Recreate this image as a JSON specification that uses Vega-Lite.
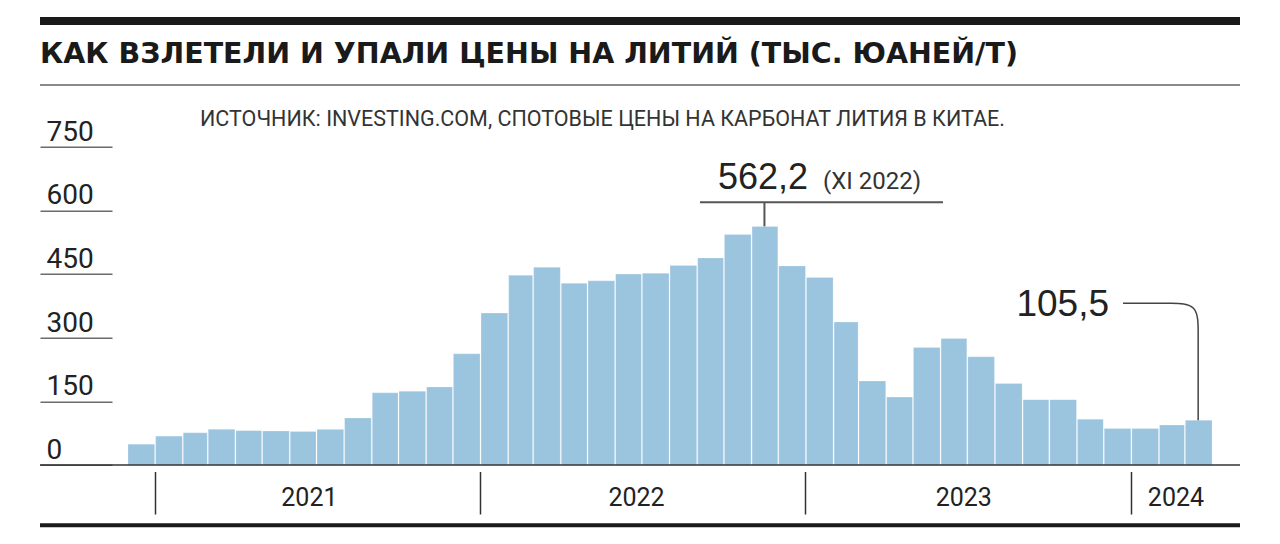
{
  "$schema": "https://vega.github.io/schema/vega-lite/v6.json",
  "autosize": {"type": "none"},
  "width": 1200,
  "height": 318.3,
  "padding": {"left": 40, "top": 146.7, "right": 40, "bottom": 79},
  "background": "#ffffff",
  "config": {"view": {"stroke": null}},
  "title": {
    "text": "КАК ВЗЛЕТЕЛИ И УПАЛИ ЦЕНЫ НА ЛИТИЙ (ТЫС. ЮАНЕЙ/Т)",
    "anchor": "start",
    "frame": "group",
    "font": "DejaVu Sans",
    "fontSize": 28.5,
    "fontWeight": "bold",
    "color": "#1a1a1a",
    "baseline": "alphabetic",
    "offset": 0,
    "dy": 75
  },
  "datasets": {
    "prices": [
      {"date": "2020-12-01", "price": 49},
      {"date": "2021-01-01", "price": 68},
      {"date": "2021-02-01", "price": 76},
      {"date": "2021-03-01", "price": 84},
      {"date": "2021-04-01", "price": 81},
      {"date": "2021-05-01", "price": 80},
      {"date": "2021-06-01", "price": 79},
      {"date": "2021-07-01", "price": 84},
      {"date": "2021-08-01", "price": 111},
      {"date": "2021-09-01", "price": 170},
      {"date": "2021-10-01", "price": 174},
      {"date": "2021-11-01", "price": 184},
      {"date": "2021-12-01", "price": 262},
      {"date": "2022-01-01", "price": 358},
      {"date": "2022-02-01", "price": 447},
      {"date": "2022-03-01", "price": 466},
      {"date": "2022-04-01", "price": 428},
      {"date": "2022-05-01", "price": 434},
      {"date": "2022-06-01", "price": 450},
      {"date": "2022-07-01", "price": 452},
      {"date": "2022-08-01", "price": 470},
      {"date": "2022-09-01", "price": 488},
      {"date": "2022-10-01", "price": 543},
      {"date": "2022-11-01", "price": 562.2},
      {"date": "2022-12-01", "price": 469},
      {"date": "2023-01-01", "price": 442},
      {"date": "2023-02-01", "price": 337},
      {"date": "2023-03-01", "price": 198},
      {"date": "2023-04-01", "price": 160},
      {"date": "2023-05-01", "price": 277},
      {"date": "2023-06-01", "price": 298},
      {"date": "2023-07-01", "price": 255},
      {"date": "2023-08-01", "price": 192},
      {"date": "2023-09-01", "price": 154},
      {"date": "2023-10-01", "price": 154},
      {"date": "2023-11-01", "price": 108},
      {"date": "2023-12-01", "price": 86},
      {"date": "2024-01-01", "price": 86},
      {"date": "2024-02-01", "price": 94},
      {"date": "2024-03-01", "price": 105.5}
    ],
    "callout": [
      {"k": 0, "date": "2023-12-23T05:00:00Z", "v": 381},
      {"k": 1, "date": "2024-01-20T00:00:00Z", "v": 381},
      {"k": 2, "date": "2024-02-14T00:00:00Z", "v": 381},
      {"k": 3, "date": "2024-03-16T12:00:00Z", "v": 381},
      {"k": 4, "date": "2024-03-16T12:00:00Z", "v": 311},
      {"k": 5, "date": "2024-03-16T12:00:00Z", "v": 240},
      {"k": 6, "date": "2024-03-16T12:00:00Z", "v": 105.5}
    ],
    "one": [{}]
  },
  "layer": [
    {
      "data": {"name": "prices"},
      "mark": {"type": "bar", "color": "#9bc4df", "stroke": "#ffffff", "strokeOpacity": 0.22, "strokeWidth": 1},
      "encoding": {
        "x": {
          "field": "date",
          "timeUnit": "utcyearmonth",
          "type": "temporal",
          "scale": {
            "type": "utc",
            "domain": [
              {"year": 2020, "month": 8, "date": 25, "hours": 10, "utc": true},
              {"year": 2024, "month": 5, "date": 2, "hours": 10, "utc": true}
            ]
          },
          "axis": {
            "title": null,
            "orient": "bottom",
            "offset": 6.5,
            "domain": false,
            "grid": false,
            "values": [
              {"year": 2021, "month": 1, "date": 1, "utc": true},
              {"year": 2021, "month": 6, "date": 23, "utc": true},
              {"year": 2022, "month": 1, "date": 1, "utc": true},
              {"year": 2022, "month": 6, "date": 25, "utc": true},
              {"year": 2023, "month": 1, "date": 1, "utc": true},
              {"year": 2023, "month": 6, "date": 27, "utc": true},
              {"year": 2024, "month": 1, "date": 1, "utc": true},
              {"year": 2024, "month": 2, "date": 20, "utc": true}
            ],
            "ticks": true,
            "tickSize": 42.5,
            "tickWidth": 1.5,
            "tickColor": "#333333",
            "tickOpacity": {"condition": {"test": "utcmonth(datum.value) == 0 && utcdate(datum.value) == 1", "value": 1}, "value": 0},
            "labelExpr": "utcmonth(datum.value) == 0 && utcdate(datum.value) == 1 ? '' : utcFormat(datum.value, '%Y')",
            "labelFont": "Roboto",
            "labelFontSize": 25,
            "labelColor": "#222222",
            "labelBaseline": "alphabetic",
            "labelAlign": "center",
            "labelPadding": -9,
            "labelOverlap": false,
            "labelFlush": false,
            "labelBound": false
          }
        },
        "y": {
          "field": "price",
          "type": "quantitative",
          "scale": {"domain": [0, 750], "nice": false, "zero": true},
          "axis": {
            "title": null,
            "orient": "left",
            "offset": -72,
            "domain": false,
            "grid": false,
            "values": [0, 150, 300, 450, 600, 750],
            "tickSize": 72,
            "tickWidth": 1.5,
            "tickColor": "#6b6b6b",
            "labelFont": "Roboto",
            "labelFontSize": 28,
            "labelColor": "#222222",
            "labelAlign": "left",
            "labelBaseline": "alphabetic",
            "labelPadding": -6,
            "labelOffset": -6.5,
            "labelOverlap": false,
            "labelFlush": false,
            "labelBound": false
          }
        }
      }
    },
    {
      "data": {"name": "one"},
      "mark": {"type": "rule", "color": "#333333", "strokeWidth": 1.5},
      "encoding": {"y": {"datum": 0, "type": "quantitative"}}
    },
    {
      "data": {"name": "one"},
      "mark": {"type": "rule", "color": "#1a1a1a", "strokeWidth": 8},
      "encoding": {"y": {"datum": 1046.2, "type": "quantitative"}}
    },
    {
      "data": {"name": "one"},
      "mark": {"type": "rule", "color": "#8a8a8a", "strokeWidth": 2},
      "encoding": {"y": {"datum": 895.4, "type": "quantitative"}}
    },
    {
      "data": {"name": "one"},
      "mark": {"type": "rule", "color": "#1a1a1a", "strokeWidth": 4},
      "encoding": {"y": {"datum": -142.1, "type": "quantitative"}}
    },
    {
      "data": {"name": "one"},
      "mark": {"type": "text", "font": "Roboto", "fontSize": 21.5, "color": "#333333", "align": "left", "baseline": "alphabetic"},
      "encoding": {
        "x": {"datum": {"year": 2021, "month": 2, "date": 20, "hours": 22, "utc": true}, "type": "temporal"},
        "y": {"datum": 798.8, "type": "quantitative"},
        "text": {"value": "ИСТОЧНИК: INVESTING.COM, СПОТОВЫЕ ЦЕНЫ НА КАРБОНАТ ЛИТИЯ В КИТАЕ."}
      }
    },
    {
      "data": {"name": "one"},
      "mark": {"type": "rule", "color": "#555555", "strokeWidth": 2},
      "encoding": {
        "x": {"datum": {"year": 2022, "month": 9, "date": 4, "hours": 17, "utc": true}, "type": "temporal"},
        "x2": {"datum": {"year": 2023, "month": 6, "date": 4, "hours": 7, "utc": true}},
        "y": {"datum": 619, "type": "quantitative"}
      }
    },
    {
      "data": {"name": "one"},
      "mark": {"type": "rule", "color": "#555555", "strokeWidth": 2},
      "encoding": {
        "x": {"datum": {"year": 2022, "month": 11, "date": 16, "utc": true}, "type": "temporal"},
        "y": {"datum": 562.2, "type": "quantitative"},
        "y2": {"datum": 619}
      }
    },
    {
      "data": {"name": "one"},
      "mark": {"type": "text", "font": "Liberation Sans", "fontSize": 36, "color": "#222222", "align": "left", "baseline": "alphabetic"},
      "encoding": {
        "x": {"datum": {"year": 2022, "month": 9, "date": 24, "hours": 22, "utc": true}, "type": "temporal"},
        "y": {"datum": 649.6, "type": "quantitative"},
        "text": {"value": "562,2"}
      }
    },
    {
      "data": {"name": "one"},
      "mark": {"type": "text", "font": "Roboto", "fontSize": 24, "color": "#333333", "align": "left", "baseline": "alphabetic"},
      "encoding": {
        "x": {"datum": {"year": 2023, "month": 1, "date": 20, "hours": 17, "utc": true}, "type": "temporal"},
        "y": {"datum": 649.6, "type": "quantitative"},
        "text": {"value": "(XI 2022)"}
      }
    },
    {
      "data": {"name": "one"},
      "mark": {"type": "text", "font": "Liberation Sans", "fontSize": 37, "color": "#222222", "align": "right", "baseline": "alphabetic"},
      "encoding": {
        "x": {"datum": {"year": 2023, "month": 12, "date": 7, "hours": 12, "utc": true}, "type": "temporal"},
        "y": {"datum": 351.8, "type": "quantitative"},
        "text": {"value": "105,5"}
      }
    },
    {
      "data": {"name": "callout"},
      "mark": {"type": "line", "interpolate": "basis", "color": "#444444", "strokeWidth": 1.5},
      "encoding": {
        "x": {"field": "date", "type": "temporal"},
        "y": {"field": "v", "type": "quantitative"},
        "order": {"field": "k"}
      }
    }
  ]
}
